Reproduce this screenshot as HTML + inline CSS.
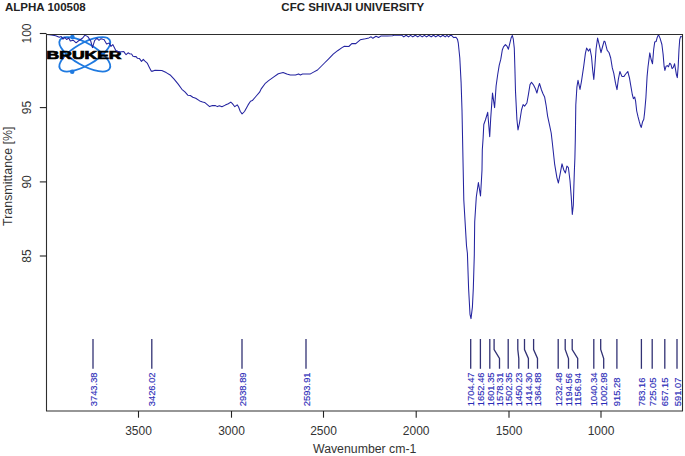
<!DOCTYPE html>
<html><head><meta charset="utf-8"><style>
html,body{margin:0;padding:0;background:#fff;}
svg{display:block;}
text{font-family:"Liberation Sans", sans-serif;}
</style></head><body>
<svg width="685" height="456" viewBox="0 0 685 456">
<rect x="0" y="0" width="685" height="456" fill="#fff"/>

<text x="5" y="11.4" font-size="11.5" font-weight="bold" fill="#222">ALPHA 100508</text>
<text x="352.8" y="11.2" font-size="11.5" font-weight="bold" fill="#222" text-anchor="middle">CFC SHIVAJI UNIVERSITY</text>
<g fill="none" stroke="#1f7ae0" stroke-width="1.8">
<ellipse cx="84.8" cy="54.3" rx="28.7" ry="11" transform="rotate(30 84.8 54.3)"/>
<ellipse cx="84.8" cy="54.3" rx="28.7" ry="11" transform="rotate(-30 84.8 54.3)"/>
</g>
<circle cx="72.4" cy="37.1" r="2.3" fill="#1f7ae0"/><circle cx="72.2" cy="71.8" r="2.3" fill="#1f7ae0"/>
<text x="0" y="0" font-size="11.1" font-weight="bold" fill="#000" stroke="#000" stroke-width="0.7" transform="translate(46.6 58.9) scale(1.58 1)">BRUKER</text>
<polyline points="46.9,34.4 51.3,35.0 55.7,35.8 59.3,37.3 61.2,36.6 63.0,39.1 64.8,37.3 66.6,39.5 68.8,38.0 70.3,41.0 73.2,40.2 76.1,42.8 78.3,41.0 80.5,39.5 82.7,38.0 84.9,35.1 87.8,36.6 90.7,41.0 92.5,47.6 94.6,40.7 95.8,39.5 97.0,38.3 99.0,40.3 101.0,38.7 102.9,39.3 104.0,39.5 106.6,43.9 109.2,43.1 111.0,46.4 112.8,44.6 115.8,50.4 119.4,51.9 123.8,51.5 125.0,53.4 126.1,54.6 128.1,52.8 129.6,53.7 131.6,54.0 133.0,56.3 134.4,56.6 136.1,56.6 137.5,58.3 139.5,58.6 141.5,61.4 143.3,59.4 144.7,60.8 147.2,63.1 149.0,66.8 151.2,71.1 153.0,71.1 155.0,70.2 161.8,70.6 166.2,72.6 170.6,75.3 174.1,79.2 178.0,83.9 181.9,89.3 184.9,91.8 187.8,95.2 190.3,95.5 192.8,97.2 195.7,98.2 199.7,100.9 202.6,101.9 204.6,102.4 209.6,106.6 212.5,105.6 215.5,105.6 217.4,106.6 219.4,105.8 221.9,106.8 225.3,105.1 228.3,103.8 230.8,102.1 232.4,103.6 234.8,106.7 237.2,104.9 238.5,106.7 240.3,111.5 242.1,113.9 244.5,111.5 248.1,104.9 250.5,101.2 252.3,100.6 255.4,97.0 259.6,92.2 261.4,88.6 265.0,83.7 268.6,80.7 273.5,77.1 278.3,73.7 283.1,72.5 286.8,74.1 290.3,75.0 295.5,75.0 298.6,73.9 300.4,75.0 302.5,74.1 310.4,73.9 313.1,72.4 317.5,70.0 321.0,66.5 324.5,63.0 328.9,58.6 333.2,54.2 337.6,50.7 342.0,47.6 344.4,46.2 348.8,46.5 351.8,43.6 355.8,43.6 360.2,39.8 365.4,38.8 368.9,37.9 371.1,36.8 372.9,38.3 376.0,36.3 378.6,37.5 380.8,36.1 387.4,36.0 392.6,35.7 394.4,35.1 400.0,35.1 401.9,35.3 403.8,36.9 406.1,35.3 408.5,36.9 410.6,35.3 412.8,36.9 415.3,35.3 417.8,36.9 420.0,35.3 422.2,36.9 424.4,35.3 426.6,36.9 428.9,35.3 431.2,36.9 433.5,35.3 435.8,36.9 438.1,35.3 440.5,36.9 442.9,35.3 445.2,36.9 446.9,35.3 448.6,36.9 450.2,35.3 451.5,35.4 453.7,37.6 456.0,37.3 457.5,39.4 458.3,43.2 459.8,58.0 461.1,82.6 462.0,110.0 463.2,170.0 463.8,200.0 466.5,245.8 467.4,253.3 468.6,288.6 470.0,314.3 471.0,318.6 472.4,307.1 473.3,288.6 474.3,255.0 474.7,222.0 476.3,197.0 478.4,182.5 480.5,196.0 481.3,182.5 482.0,170.0 482.3,150.0 483.1,138.4 483.8,124.5 485.4,120.0 487.7,112.3 489.7,136.8 490.7,118.4 492.5,93.1 494.6,107.6 496.1,86.0 497.7,74.5 499.2,65.3 500.8,59.2 502.3,50.0 503.5,46.9 505.4,44.6 506.9,46.1 508.4,49.2 509.7,43.8 511.2,37.7 512.3,35.4 513.3,39.2 514.3,48.4 514.9,68.4 515.5,91.4 516.9,119.2 518.0,129.9 519.5,123.0 521.5,110.0 523.1,104.6 524.6,106.1 526.9,103.0 528.4,94.6 530.0,84.6 531.5,82.3 533.8,85.4 535.3,88.4 536.9,93.0 538.4,86.9 539.5,83.5 541.5,90.0 543.0,93.8 544.6,96.9 546.1,105.3 547.6,116.1 549.6,125.3 551.2,133.0 552.3,142.5 554.6,163.8 556.9,177.6 558.4,183.0 560.0,174.6 562.0,163.8 563.8,170.0 565.4,173.0 566.9,166.1 568.4,167.7 570.0,180.7 571.2,196.1 572.3,214.5 573.3,205.3 573.8,188.4 574.3,173.0 574.9,157.7 575.3,140.0 575.8,105.0 576.9,87.2 578.0,80.3 580.0,89.5 581.5,81.1 583.8,65.7 585.4,53.4 586.6,48.1 588.4,51.1 590.0,48.8 591.5,56.5 592.7,70.3 593.8,79.5 594.9,65.7 596.1,48.8 597.6,38.1 599.5,45.8 601.0,52.7 602.6,46.5 604.1,41.1 605.0,41.6 607.2,50.4 609.0,52.5 610.7,58.0 612.3,67.9 613.8,73.4 615.5,83.2 617.0,89.6 618.3,79.7 619.9,71.5 621.9,76.4 624.0,76.4 625.7,74.0 627.8,71.5 629.5,78.1 630.6,84.7 632.3,94.5 633.4,98.7 634.7,97.0 635.6,101.1 636.7,111.0 638.0,116.7 639.3,121.7 640.5,125.8 641.3,127.4 642.6,121.7 643.8,119.2 644.6,112.6 645.9,97.8 647.1,76.4 648.0,67.0 649.8,52.9 651.0,59.0 652.5,63.8 653.7,49.3 654.7,42.1 656.1,41.5 657.1,37.8 658.5,34.6 660.1,38.4 661.9,44.5 663.1,54.1 664.1,66.2 664.9,70.4 666.1,66.2 667.3,65.6 668.5,66.8 669.7,63.2 670.9,64.4 672.1,68.6 673.3,67.4 674.6,63.8 675.4,68.6 676.4,74.6 677.3,77.6 678.2,66.2 679.0,49.3 679.7,39.7 680.6,36.6 681.8,36.6" fill="none" stroke="#2424a0" stroke-width="1.05" stroke-linejoin="round"/>
<path d="M46.5,34.5H682.5V411.0H46.5Z" fill="none" stroke="#2e2e2e" stroke-width="1.1"/>
<line x1="39.8" y1="33.5" x2="46.5" y2="33.5" stroke="#222" stroke-width="1.1"/>
<text font-size="12" fill="#333" text-anchor="middle" transform="translate(30.6 33.5) rotate(-90)">100</text>
<line x1="39.8" y1="107.6" x2="46.5" y2="107.6" stroke="#222" stroke-width="1.1"/>
<text font-size="12" fill="#333" text-anchor="middle" transform="translate(30.6 107.6) rotate(-90)">95</text>
<line x1="39.8" y1="181.9" x2="46.5" y2="181.9" stroke="#222" stroke-width="1.1"/>
<text font-size="12" fill="#333" text-anchor="middle" transform="translate(30.6 181.9) rotate(-90)">90</text>
<line x1="39.8" y1="256.0" x2="46.5" y2="256.0" stroke="#222" stroke-width="1.1"/>
<text font-size="12" fill="#333" text-anchor="middle" transform="translate(30.6 256.0) rotate(-90)">85</text>
<line x1="138.5" y1="411.0" x2="138.5" y2="417.7" stroke="#222" stroke-width="1.1"/>
<text x="138.5" y="434.7" font-size="12" fill="#333" text-anchor="middle">3500</text>
<line x1="231.5" y1="411.0" x2="231.5" y2="417.7" stroke="#222" stroke-width="1.1"/>
<text x="231.5" y="434.7" font-size="12" fill="#333" text-anchor="middle">3000</text>
<line x1="323.5" y1="411.0" x2="323.5" y2="417.7" stroke="#222" stroke-width="1.1"/>
<text x="323.5" y="434.7" font-size="12" fill="#333" text-anchor="middle">2500</text>
<line x1="416.2" y1="411.0" x2="416.2" y2="417.7" stroke="#222" stroke-width="1.1"/>
<text x="416.2" y="434.7" font-size="12" fill="#333" text-anchor="middle">2000</text>
<line x1="509.0" y1="411.0" x2="509.0" y2="417.7" stroke="#222" stroke-width="1.1"/>
<text x="509.0" y="434.7" font-size="12" fill="#333" text-anchor="middle">1500</text>
<line x1="601.0" y1="411.0" x2="601.0" y2="417.7" stroke="#222" stroke-width="1.1"/>
<text x="601.0" y="434.7" font-size="12" fill="#333" text-anchor="middle">1000</text>
<text x="364.7" y="452.7" font-size="12.3" fill="#333" text-anchor="middle">Wavenumber cm-1</text>
<text font-size="12.4" fill="#333" text-anchor="middle" transform="translate(12.1 176.2) rotate(-90)">Transmittance [%]</text>
<path d="M93.0,339V368.8" fill="none" stroke="#323274" stroke-width="1.3"/>
<text font-size="9.4" fill="#2c2cb8" stroke="#2c2cb8" stroke-width="0.15" transform="translate(96.5 406.3) rotate(-90)">3743.38</text>
<path d="M151.8,339V368.8" fill="none" stroke="#323274" stroke-width="1.3"/>
<text font-size="9.4" fill="#2c2cb8" stroke="#2c2cb8" stroke-width="0.15" transform="translate(155.3 406.3) rotate(-90)">3426.02</text>
<path d="M242.0,339V368.8" fill="none" stroke="#323274" stroke-width="1.3"/>
<text font-size="9.4" fill="#2c2cb8" stroke="#2c2cb8" stroke-width="0.15" transform="translate(245.5 406.3) rotate(-90)">2938.89</text>
<path d="M306.0,339V368.8" fill="none" stroke="#323274" stroke-width="1.3"/>
<text font-size="9.4" fill="#2c2cb8" stroke="#2c2cb8" stroke-width="0.15" transform="translate(309.5 406.3) rotate(-90)">2593.91</text>
<path d="M470.7,339V368.8" fill="none" stroke="#323274" stroke-width="1.3"/>
<text font-size="9.4" fill="#2c2cb8" stroke="#2c2cb8" stroke-width="0.15" transform="translate(474.2 406.3) rotate(-90)">1704.47</text>
<path d="M480.4,339V368.8" fill="none" stroke="#323274" stroke-width="1.3"/>
<text font-size="9.4" fill="#2c2cb8" stroke="#2c2cb8" stroke-width="0.15" transform="translate(483.9 406.3) rotate(-90)">1652.46</text>
<path d="M489.8,339V368.8" fill="none" stroke="#323274" stroke-width="1.3"/>
<text font-size="9.4" fill="#2c2cb8" stroke="#2c2cb8" stroke-width="0.15" transform="translate(493.7 406.3) rotate(-90)">1601.35</text>
<path d="M494.1,339V349.5L499.5,358.5V368.8" fill="none" stroke="#323274" stroke-width="1.3"/>
<text font-size="9.4" fill="#2c2cb8" stroke="#2c2cb8" stroke-width="0.15" transform="translate(503.0 406.3) rotate(-90)">1578.31</text>
<path d="M508.2,339V368.8" fill="none" stroke="#323274" stroke-width="1.3"/>
<text font-size="9.4" fill="#2c2cb8" stroke="#2c2cb8" stroke-width="0.15" transform="translate(511.7 406.3) rotate(-90)">1502.35</text>
<path d="M517.8,339V349.5L518.8,358.5V368.8" fill="none" stroke="#323274" stroke-width="1.3"/>
<text font-size="9.4" fill="#2c2cb8" stroke="#2c2cb8" stroke-width="0.15" transform="translate(522.3 406.3) rotate(-90)">1450.23</text>
<path d="M524.5,339V349.5L528.4,358.5V368.8" fill="none" stroke="#323274" stroke-width="1.3"/>
<text font-size="9.4" fill="#2c2cb8" stroke="#2c2cb8" stroke-width="0.15" transform="translate(531.9 406.3) rotate(-90)">1414.30</text>
<path d="M533.6,339V349.5L537.5,358.5V368.8" fill="none" stroke="#323274" stroke-width="1.3"/>
<text font-size="9.4" fill="#2c2cb8" stroke="#2c2cb8" stroke-width="0.15" transform="translate(541.0 406.3) rotate(-90)">1364.88</text>
<path d="M558.2,339V368.8" fill="none" stroke="#323274" stroke-width="1.3"/>
<text font-size="9.4" fill="#2c2cb8" stroke="#2c2cb8" stroke-width="0.15" transform="translate(561.7 406.3) rotate(-90)">1232.48</text>
<path d="M565.2,339V349.5L568.5,358.5V368.8" fill="none" stroke="#323274" stroke-width="1.3"/>
<text font-size="9.4" fill="#2c2cb8" stroke="#2c2cb8" stroke-width="0.15" transform="translate(572.0 406.3) rotate(-90)">1194.56</text>
<path d="M572.2,339V349.5L577.7,358.5V368.8" fill="none" stroke="#323274" stroke-width="1.3"/>
<text font-size="9.4" fill="#2c2cb8" stroke="#2c2cb8" stroke-width="0.15" transform="translate(581.2 406.3) rotate(-90)">1156.94</text>
<path d="M593.8,339V368.8" fill="none" stroke="#323274" stroke-width="1.3"/>
<text font-size="9.4" fill="#2c2cb8" stroke="#2c2cb8" stroke-width="0.15" transform="translate(597.3 406.3) rotate(-90)">1040.34</text>
<path d="M600.7,339V349.5L603.7,358.5V368.8" fill="none" stroke="#323274" stroke-width="1.3"/>
<text font-size="9.4" fill="#2c2cb8" stroke="#2c2cb8" stroke-width="0.15" transform="translate(607.2 406.3) rotate(-90)">1002.98</text>
<path d="M616.9,339V368.8" fill="none" stroke="#323274" stroke-width="1.3"/>
<text font-size="9.4" fill="#2c2cb8" stroke="#2c2cb8" stroke-width="0.15" transform="translate(620.4 406.3) rotate(-90)">915.28</text>
<path d="M641.4,339V368.8" fill="none" stroke="#323274" stroke-width="1.3"/>
<text font-size="9.4" fill="#2c2cb8" stroke="#2c2cb8" stroke-width="0.15" transform="translate(644.9 406.3) rotate(-90)">783.16</text>
<path d="M652.2,339V368.8" fill="none" stroke="#323274" stroke-width="1.3"/>
<text font-size="9.4" fill="#2c2cb8" stroke="#2c2cb8" stroke-width="0.15" transform="translate(655.7 406.3) rotate(-90)">725.05</text>
<path d="M664.8,339V368.8" fill="none" stroke="#323274" stroke-width="1.3"/>
<text font-size="9.4" fill="#2c2cb8" stroke="#2c2cb8" stroke-width="0.15" transform="translate(668.3 406.3) rotate(-90)">657.15</text>
<path d="M677.0,339V368.8" fill="none" stroke="#323274" stroke-width="1.3"/>
<text font-size="9.4" fill="#2c2cb8" stroke="#2c2cb8" stroke-width="0.15" transform="translate(680.5 406.3) rotate(-90)">591.07</text>
</svg></body></html>
